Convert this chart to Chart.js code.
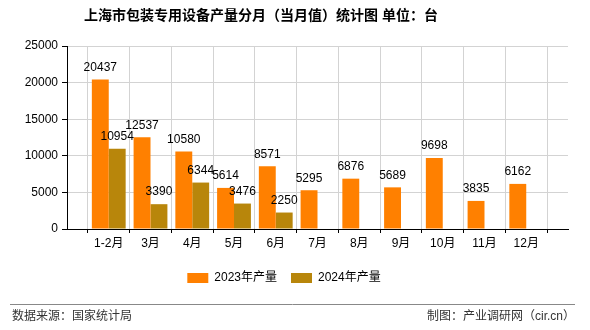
<!DOCTYPE html>
<html>
<head>
<meta charset="utf-8">
<script src="https://cdn.jsdelivr.net/npm/chart.js@4.4.1/dist/chart.umd.min.js"></script>
<style>
  html, body { margin: 0; padding: 0; background: #fff; }
  #wrap { width: 590px; height: 330px; }
</style>
</head>
<body>
<div id="wrap"><canvas id="chart" width="590" height="330"></canvas></div>
<script>
const months = ["1-2月", "3月", "4月", "5月", "6月", "7月", "8月", "9月", "10月", "11月", "12月"];
const output2023 = [20437, 12537, 10580, 5614, 8571, 5295, 6876, 5689, 9698, 3835, 6162];
const output2024 = [10954, 3390, 6344, 3476, 2250, null, null, null, null, null, null];
const seriesNames = ["2023年产量", "2024年产量"];
const yTicks = [0, 5000, 10000, 15000, 20000, 25000];

const FONT = "'Liberation Sans', 'Noto Sans CJK SC', sans-serif";

// empty slot at each end so the categories sit on the inner grid lines
const labels = ["", ...months, ""];
const pad = arr => [null, ...arr, null];

const decor = {
  id: "decor",
  afterDatasetsDraw(chart) {
    const ctx = chart.ctx;
    ctx.save();
    ctx.font = "12px " + FONT;
    ctx.fillStyle = "#000";
    ctx.textAlign = "center";
    ctx.textBaseline = "middle";
    chart.data.datasets.forEach((ds, i) => {
      const meta = chart.getDatasetMeta(i);
      meta.data.forEach((bar, j) => {
        const v = ds.data[j];
        if (v == null) return;
        ctx.fillText(String(v), bar.x, bar.y - 12);
      });
    });
    ctx.restore();
  },
  afterDraw(chart) {
    const ctx = chart.ctx;
    ctx.save();
    ctx.fillStyle = "#000";
    ctx.font = "bold 14px " + FONT;
    ctx.textAlign = "center";
    ctx.textBaseline = "middle";
    ctx.fillText("上海市包装专用设备产量分月（当月值）统计图 单位：台", 261, 16);

    ctx.strokeStyle = "#888";
    ctx.lineWidth = 1;
    ctx.beginPath();
    ctx.moveTo(10, 304.5);
    ctx.lineTo(575, 304.5);
    ctx.stroke();

    ctx.font = "12px " + FONT;
    ctx.fillStyle = "#333";
    ctx.textAlign = "left";
    ctx.fillText("数据来源：国家统计局", 12, 317);
    ctx.textAlign = "right";
    ctx.fillText("制图：产业调研网（cir.cn）", 575, 317);
    ctx.restore();
  }
};

new Chart(document.getElementById("chart"), {
  type: "bar",
  data: {
    labels: labels,
    datasets: [
      { label: seriesNames[0], data: pad(output2023), backgroundColor: "#ff8000" },
      { label: seriesNames[1], data: pad(output2024), backgroundColor: "#b8860b" }
    ]
  },
  options: {
    responsive: false,
    animation: false,
    devicePixelRatio: 1,
    categoryPercentage: 0.81,
    barPercentage: 1,
    layout: { padding: { left: 0, right: 22, top: 46, bottom: 36 } },
    plugins: {
      legend: {
        position: "bottom",
        labels: {
          boxWidth: 21,
          boxHeight: 10,
          padding: 14,
          color: "#000",
          font: { size: 12, family: FONT }
        }
      },
      tooltip: { enabled: false }
    },
    scales: {
      x: {
        type: "category",
        offset: false,
        grid: { color: "#d3d3d3", tickColor: "#000", tickLength: 4 },
        border: { color: "#000" },
        ticks: { color: "#000", font: { size: 12, family: FONT }, maxRotation: 0, autoSkip: false, padding: 3 },
        afterFit(scale) { scale.height = 29; }
      },
      y: {
        min: 0,
        max: 25000,
        afterBuildTicks(scale) { scale.ticks = yTicks.map(v => ({ value: v })); },
        grid: { color: "#d3d3d3", tickColor: "#000", tickLength: 5 },
        border: { color: "#000" },
        ticks: { color: "#000", font: { size: 12, family: FONT }, padding: 4, callback: v => String(v) },
        afterFit(scale) { scale.width = 67; }
      }
    }
  },
  plugins: [decor]
});
</script>
</body>
</html>
